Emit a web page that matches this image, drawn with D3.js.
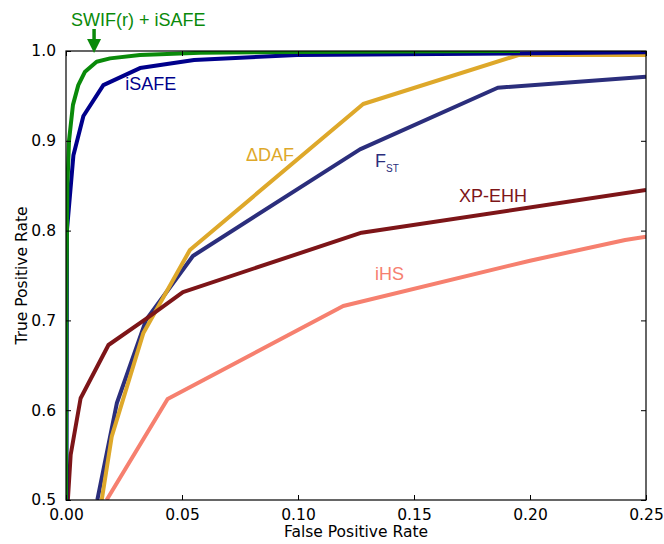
<!DOCTYPE html>
<html>
<head>
<meta charset="utf-8">
<script src="https://cdn.jsdelivr.net/npm/d3@7"></script>
<style>
  html, body { margin: 0; padding: 0; background: #fff; }
  svg { display: block; }
</style>
</head>
<body>
<svg id="chart" width="664" height="544"></svg>
<script>
// ROC curves: false positive rate (x) vs true positive rate (y)
const xTicks = [0.00, 0.05, 0.10, 0.15, 0.20, 0.25];
const yTicks = [0.5, 0.6, 0.7, 0.8, 0.9, 1.0];

const iHS = [[0.0175, 0.5], [0.0438, 0.6125], [0.1195, 0.7160], [0.2000, 0.7665], [0.2410, 0.7895], [0.25, 0.7932]];
const fst = [[0.0135, 0.5], [0.0219, 0.6077], [0.0345, 0.7004], [0.0547, 0.7717], [0.1267, 0.8905], [0.1861, 0.9591], [0.25, 0.9714]];
const deltaDAF = [[0.0154, 0.5], [0.0197, 0.5705], [0.0333, 0.6856], [0.0534, 0.7784], [0.1281, 0.9410], [0.1950, 0.9955], [0.25, 0.9955]];
const xpEHH = [[0.0008, 0.5], [0.0020, 0.5501], [0.0063, 0.6133], [0.0183, 0.6726], [0.0348, 0.7023], [0.0504, 0.7316], [0.1274, 0.7977], [0.25, 0.8452]];
const iSAFE = [[0.0002, 0.5], [0.0004, 0.80], [0.0032, 0.884], [0.0075, 0.9276], [0.0161, 0.962], [0.0319, 0.981], [0.0552, 0.990], [0.0996, 0.9955], [0.25, 0.9985]];
const swif = [[0.0, 0.5], [0.0002, 0.74], [0.0006, 0.85], [0.0013, 0.90], [0.0030, 0.940], [0.0053, 0.962], [0.0082, 0.977], [0.0132, 0.988], [0.0190, 0.9918], [0.0319, 0.9955], [0.0578, 0.998], [0.1009, 0.999], [0.1957, 1.0]];

const seriesNames = ["iHS", "FST", "ΔDAF", "XP-EHH", "iSAFE", "SWIF(r) + iSAFE"];
const seriesData = [iHS, fst, deltaDAF, xpEHH, iSAFE, swif];
const seriesColors = ["#F6806F", "#2B2E7C", "#DEA82A", "#7D1518", "#00008B", "#0A8A0A"];

const svg = d3.select("#chart");
const m = { left: 66, right: 646, top: 51, bottom: 500 };

const x = d3.scaleLinear().domain([0, 0.25]).range([m.left, m.right]);
const y = d3.scaleLinear().domain([0.5, 1.0]).range([m.bottom, m.top]);

svg.append("defs").append("clipPath").attr("id", "plotClip")
  .append("rect")
  .attr("x", m.left).attr("y", m.top)
  .attr("width", m.right - m.left).attr("height", m.bottom - m.top);

const line = d3.line().x(d => x(d[0])).y(d => y(d[1]));

const lines = svg.append("g").attr("clip-path", "url(#plotClip)");
seriesData.forEach((data, i) => {
  lines.append("path")
    .datum(data)
    .attr("d", line)
    .attr("fill", "none")
    .attr("stroke", seriesColors[i])
    .attr("stroke-width", 4)
    .attr("stroke-linejoin", "round");
});

// Frame with inward ticks on all four sides
const tickFont = "'DejaVu Sans', sans-serif";
const tickSize = 15.5;

const bottomAxis = d3.axisBottom(x).tickValues(xTicks).tickSizeInner(-5).tickSizeOuter(0)
  .tickPadding(9).tickFormat(d3.format(".2f"));
const topAxis = d3.axisTop(x).tickValues(xTicks).tickSizeInner(-5).tickSizeOuter(0).tickFormat("");
const leftAxis = d3.axisLeft(y).tickValues(yTicks).tickSizeInner(-5).tickSizeOuter(0)
  .tickPadding(10).tickFormat(d3.format(".1f"));
const rightAxis = d3.axisRight(y).tickValues(yTicks).tickSizeInner(-5).tickSizeOuter(0).tickFormat("");

function styleAxis(g) {
  g.select(".domain").remove();
  g.selectAll(".tick line").attr("stroke", "#000").attr("stroke-width", 1);
  g.selectAll(".tick text").attr("fill", "#000")
    .style("font-family", tickFont).style("font-size", tickSize + "px");
}

svg.append("g").attr("transform", `translate(0,${m.bottom})`).call(bottomAxis).call(styleAxis);
svg.append("g").attr("transform", `translate(0,${m.top})`).call(topAxis).call(styleAxis);
svg.append("g").attr("transform", `translate(${m.left},0)`).call(leftAxis).call(styleAxis);
svg.append("g").attr("transform", `translate(${m.right},0)`).call(rightAxis).call(styleAxis);

svg.append("rect")
  .attr("x", m.left).attr("y", m.top)
  .attr("width", m.right - m.left).attr("height", m.bottom - m.top)
  .attr("fill", "none").attr("stroke", "#000").attr("stroke-width", 1.2);

// Axis titles
svg.append("text")
  .attr("x", (m.left + m.right) / 2).attr("y", 537)
  .attr("text-anchor", "middle")
  .style("font-family", tickFont).style("font-size", tickSize + "px")
  .text("False Positive Rate");

svg.append("text")
  .attr("transform", `translate(27,${(m.top + m.bottom) / 2}) rotate(-90)`)
  .attr("text-anchor", "middle")
  .style("font-family", tickFont).style("font-size", tickSize + "px")
  .text("True Positive Rate");

// Curve annotations
const labelFont = "'Liberation Sans', Arial, sans-serif";
const labels = [
  { text: "iSAFE", series: 4, x: 0.0255, y: 0.9565 },
  { text: "ΔDAF", series: 2, x: 0.0776, y: 0.878 },
  { text: "XP-EHH", series: 3, x: 0.1694, y: 0.832 },
  { text: "iHS", series: 0, x: 0.1332, y: 0.7452 }
];
labels.forEach(l => {
  svg.append("text")
    .attr("x", x(l.x)).attr("y", y(l.y))
    .attr("fill", seriesColors[l.series])
    .style("font-family", labelFont).style("font-size", "18px")
    .text(l.text);
});

// F with subscript ST
const fstLabel = svg.append("text")
  .attr("x", x(0.1332)).attr("y", y(0.8707))
  .attr("fill", seriesColors[1])
  .style("font-family", labelFont).style("font-size", "18px");
fstLabel.append("tspan").text("F");
fstLabel.append("tspan").attr("dy", 5).style("font-size", "10px").text("ST");

// Title-style label with arrow pointing at the green curve
svg.append("text")
  .attr("x", 71).attr("y", 26)
  .attr("fill", seriesColors[5])
  .style("font-family", labelFont).style("font-size", "18px")
  .text("SWIF(r) + iSAFE");

const ax = x(0.0121);
svg.append("line")
  .attr("x1", ax).attr("x2", ax).attr("y1", 29).attr("y2", 41)
  .attr("stroke", seriesColors[5]).attr("stroke-width", 3.5);
svg.append("path")
  .attr("d", `M${ax - 7},39 L${ax + 7},39 L${ax},53 Z`)
  .attr("fill", seriesColors[5]);
</script>
</body>
</html>
